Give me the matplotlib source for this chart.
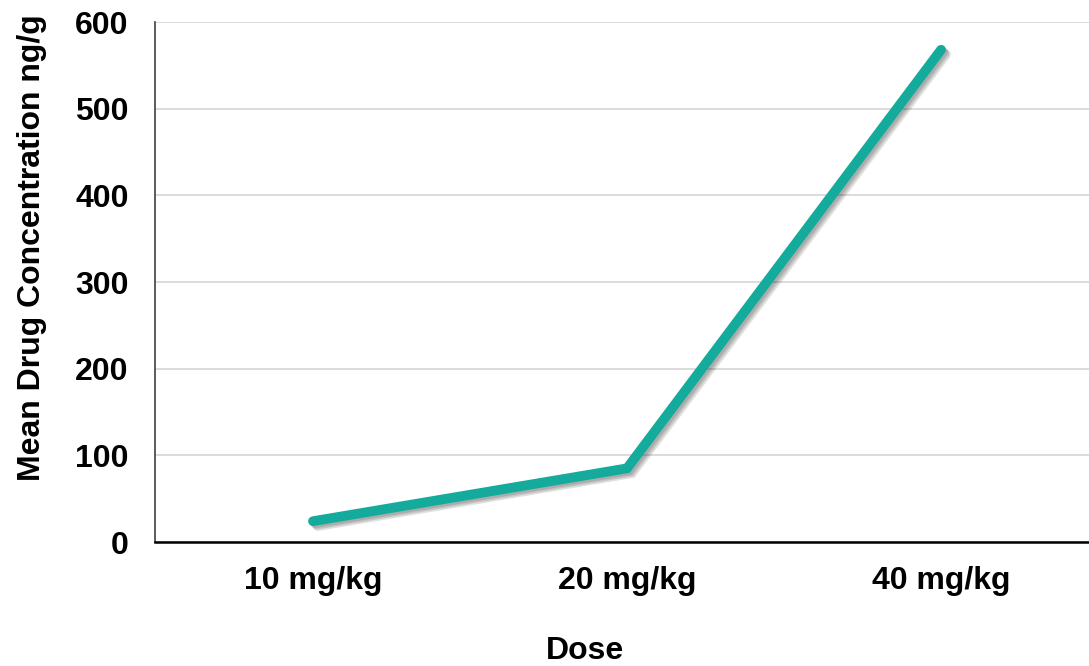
import numpy as np
import matplotlib
matplotlib.use('Agg')
import matplotlib.pyplot as plt
import matplotlib.patheffects as pe

doses = ['10 mg/kg', '20 mg/kg', '40 mg/kg']
conc = [24, 85, 568]
yticks = [0, 100, 200, 300, 400, 500, 600]

plt.rcParams['font.family'] = ['Liberation Sans', 'DejaVu Sans']
plt.rcParams['font.weight'] = 'bold'

fig = plt.figure(figsize=(10.89, 6.66), dpi=100)
ax = fig.add_axes([155/1089, 124/666, 934/1089, 520/666])

x = np.arange(len(doses))
# soft drop shadow made from a few stacked offsets
shadow = [pe.SimpleLineShadow(offset=(d, -d), alpha=0.12, shadow_color='black')
          for d in (1.5, 2.5, 3.5)]
ax.plot(x, conc, color='#14ab9c', lw=7, solid_capstyle='round', solid_joinstyle='miter',
        path_effects=shadow + [pe.Normal()], zorder=3)

ax.set_xlim(-0.503, 2.471)
ax.set_ylim(0, 600)
ax.set_xticks(x)
ax.set_xticklabels(doses, fontsize=23, fontweight='bold')
ax.set_yticks(yticks)
ax.set_yticklabels([str(v) for v in yticks], fontsize=23, fontweight='bold')
ax.tick_params(axis='both', length=0)
ax.tick_params(axis='x', pad=17)
ax.tick_params(axis='y', pad=19)

ax.grid(axis='y', color='#d9d9d9', lw=1.3, zorder=0)
ax.set_axisbelow(True)
for s in ['top', 'right']:
    ax.spines[s].set_visible(False)
ax.spines['left'].set_color('#404040')
ax.spines['left'].set_linewidth(1.2)
ax.spines['bottom'].set_color('black')
ax.spines['bottom'].set_linewidth(1.8)

fig.text(32/1089, 1 - 248/666, 'Mean Drug Concentration ng/g', rotation=90,
         ha='center', va='center', fontsize=23, fontweight='bold')
fig.text(585/1089, 1 - 651/666, 'Dose', ha='center', va='center',
         fontsize=23, fontweight='bold')

fig.savefig('out.png', dpi=100)
